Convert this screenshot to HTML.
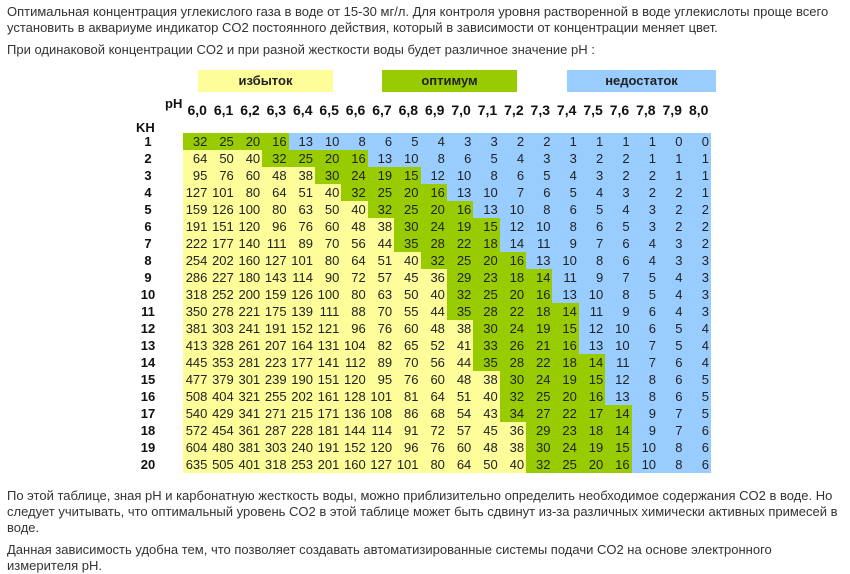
<!DOCTYPE html>
<html><head><meta charset="utf-8"><style>
body{margin:0;width:850px;height:574px;background:#fff;font-family:"Liberation Sans",Arial,sans-serif;color:#333;position:relative;overflow:hidden}
p{position:absolute;left:7px;margin:0;font-size:13px;line-height:16px;width:835px}
.lab{position:absolute;top:70px;height:22px;line-height:22px;text-align:center;font-weight:bold;font-size:13px;color:#222}
table{position:absolute;border-collapse:collapse;table-layout:fixed}
#t{left:183px;top:133px;width:528px}
#t td{width:26.4px;height:17px;padding:0 2px 0 0;text-align:right;font-size:13px;line-height:17px;color:#222;box-sizing:border-box}
.y{background:#fdfd99}.g{background:#99cc00}.b{background:#99ccff}
#h{left:184px;top:102px;width:528px}
#h td{width:26.4px;text-align:center;font-weight:bold;font-size:14px;color:#111;height:16px;padding:0}
#k{left:130px;top:133px;width:36px}
#k td{height:17px;text-align:center;font-weight:bold;font-size:13px;line-height:17px;color:#111;padding:0}
.ax{position:absolute;font-weight:bold;font-size:13px;color:#111}
</style></head><body>
<p style="top:4px">Оптимальная концентрация углекислого газа в воде от 15-30 мг/л. Для контроля уровня растворенной в воде углекислоты проще всего установить в аквариуме индикатор CO2 постоянного действия, который в зависимости от концентрации меняет цвет.</p>
<p style="top:42px">При одинаковой концентрации CO2 и при разной жесткости воды будет различное значение pH :</p>
<div class="lab" style="left:198px;width:135px;background:#fdfd99">избыток</div>
<div class="lab" style="left:382px;width:135px;background:#99cc00">оптимум</div>
<div class="lab" style="left:567px;width:149px;background:#99ccff">недостаток</div>
<div class="ax" style="left:165px;top:96px">pH</div>
<div class="ax" style="left:136px;top:120px">KH</div>
<table id="h"><tr><td>6,0</td><td>6,1</td><td>6,2</td><td>6,3</td><td>6,4</td><td>6,5</td><td>6,6</td><td>6,7</td><td>6,8</td><td>6,9</td><td>7,0</td><td>7,1</td><td>7,2</td><td>7,3</td><td>7,4</td><td>7,5</td><td>7,6</td><td>7,8</td><td>7,9</td><td>8,0</td></tr></table>
<table id="k"><tr><td>1</td></tr><tr><td>2</td></tr><tr><td>3</td></tr><tr><td>4</td></tr><tr><td>5</td></tr><tr><td>6</td></tr><tr><td>7</td></tr><tr><td>8</td></tr><tr><td>9</td></tr><tr><td>10</td></tr><tr><td>11</td></tr><tr><td>12</td></tr><tr><td>13</td></tr><tr><td>14</td></tr><tr><td>15</td></tr><tr><td>16</td></tr><tr><td>17</td></tr><tr><td>18</td></tr><tr><td>19</td></tr><tr><td>20</td></tr></table>
<table id="t">
<tr><td class="g">32</td><td class="g">25</td><td class="g">20</td><td class="g">16</td><td class="b">13</td><td class="b">10</td><td class="b">8</td><td class="b">6</td><td class="b">5</td><td class="b">4</td><td class="b">3</td><td class="b">3</td><td class="b">2</td><td class="b">2</td><td class="b">1</td><td class="b">1</td><td class="b">1</td><td class="b">1</td><td class="b">0</td><td class="b">0</td></tr>
<tr><td class="y">64</td><td class="y">50</td><td class="y">40</td><td class="g">32</td><td class="g">25</td><td class="g">20</td><td class="g">16</td><td class="b">13</td><td class="b">10</td><td class="b">8</td><td class="b">6</td><td class="b">5</td><td class="b">4</td><td class="b">3</td><td class="b">3</td><td class="b">2</td><td class="b">2</td><td class="b">1</td><td class="b">1</td><td class="b">1</td></tr>
<tr><td class="y">95</td><td class="y">76</td><td class="y">60</td><td class="y">48</td><td class="y">38</td><td class="g">30</td><td class="g">24</td><td class="g">19</td><td class="g">15</td><td class="b">12</td><td class="b">10</td><td class="b">8</td><td class="b">6</td><td class="b">5</td><td class="b">4</td><td class="b">3</td><td class="b">2</td><td class="b">2</td><td class="b">1</td><td class="b">1</td></tr>
<tr><td class="y">127</td><td class="y">101</td><td class="y">80</td><td class="y">64</td><td class="y">51</td><td class="y">40</td><td class="g">32</td><td class="g">25</td><td class="g">20</td><td class="g">16</td><td class="b">13</td><td class="b">10</td><td class="b">7</td><td class="b">6</td><td class="b">5</td><td class="b">4</td><td class="b">3</td><td class="b">2</td><td class="b">2</td><td class="b">1</td></tr>
<tr><td class="y">159</td><td class="y">126</td><td class="y">100</td><td class="y">80</td><td class="y">63</td><td class="y">50</td><td class="y">40</td><td class="g">32</td><td class="g">25</td><td class="g">20</td><td class="g">16</td><td class="b">13</td><td class="b">10</td><td class="b">8</td><td class="b">6</td><td class="b">5</td><td class="b">4</td><td class="b">3</td><td class="b">2</td><td class="b">2</td></tr>
<tr><td class="y">191</td><td class="y">151</td><td class="y">120</td><td class="y">96</td><td class="y">76</td><td class="y">60</td><td class="y">48</td><td class="y">38</td><td class="g">30</td><td class="g">24</td><td class="g">19</td><td class="g">15</td><td class="b">12</td><td class="b">10</td><td class="b">8</td><td class="b">6</td><td class="b">5</td><td class="b">3</td><td class="b">2</td><td class="b">2</td></tr>
<tr><td class="y">222</td><td class="y">177</td><td class="y">140</td><td class="y">111</td><td class="y">89</td><td class="y">70</td><td class="y">56</td><td class="y">44</td><td class="g">35</td><td class="g">28</td><td class="g">22</td><td class="g">18</td><td class="b">14</td><td class="b">11</td><td class="b">9</td><td class="b">7</td><td class="b">6</td><td class="b">4</td><td class="b">3</td><td class="b">2</td></tr>
<tr><td class="y">254</td><td class="y">202</td><td class="y">160</td><td class="y">127</td><td class="y">101</td><td class="y">80</td><td class="y">64</td><td class="y">51</td><td class="y">40</td><td class="g">32</td><td class="g">25</td><td class="g">20</td><td class="g">16</td><td class="b">13</td><td class="b">10</td><td class="b">8</td><td class="b">6</td><td class="b">4</td><td class="b">3</td><td class="b">3</td></tr>
<tr><td class="y">286</td><td class="y">227</td><td class="y">180</td><td class="y">143</td><td class="y">114</td><td class="y">90</td><td class="y">72</td><td class="y">57</td><td class="y">45</td><td class="y">36</td><td class="g">29</td><td class="g">23</td><td class="g">18</td><td class="g">14</td><td class="b">11</td><td class="b">9</td><td class="b">7</td><td class="b">5</td><td class="b">4</td><td class="b">3</td></tr>
<tr><td class="y">318</td><td class="y">252</td><td class="y">200</td><td class="y">159</td><td class="y">126</td><td class="y">100</td><td class="y">80</td><td class="y">63</td><td class="y">50</td><td class="y">40</td><td class="g">32</td><td class="g">25</td><td class="g">20</td><td class="g">16</td><td class="b">13</td><td class="b">10</td><td class="b">8</td><td class="b">5</td><td class="b">4</td><td class="b">3</td></tr>
<tr><td class="y">350</td><td class="y">278</td><td class="y">221</td><td class="y">175</td><td class="y">139</td><td class="y">111</td><td class="y">88</td><td class="y">70</td><td class="y">55</td><td class="y">44</td><td class="g">35</td><td class="g">28</td><td class="g">22</td><td class="g">18</td><td class="g">14</td><td class="b">11</td><td class="b">9</td><td class="b">6</td><td class="b">4</td><td class="b">3</td></tr>
<tr><td class="y">381</td><td class="y">303</td><td class="y">241</td><td class="y">191</td><td class="y">152</td><td class="y">121</td><td class="y">96</td><td class="y">76</td><td class="y">60</td><td class="y">48</td><td class="y">38</td><td class="g">30</td><td class="g">24</td><td class="g">19</td><td class="g">15</td><td class="b">12</td><td class="b">10</td><td class="b">6</td><td class="b">5</td><td class="b">4</td></tr>
<tr><td class="y">413</td><td class="y">328</td><td class="y">261</td><td class="y">207</td><td class="y">164</td><td class="y">131</td><td class="y">104</td><td class="y">82</td><td class="y">65</td><td class="y">52</td><td class="y">41</td><td class="g">33</td><td class="g">26</td><td class="g">21</td><td class="g">16</td><td class="b">13</td><td class="b">10</td><td class="b">7</td><td class="b">5</td><td class="b">4</td></tr>
<tr><td class="y">445</td><td class="y">353</td><td class="y">281</td><td class="y">223</td><td class="y">177</td><td class="y">141</td><td class="y">112</td><td class="y">89</td><td class="y">70</td><td class="y">56</td><td class="y">44</td><td class="g">35</td><td class="g">28</td><td class="g">22</td><td class="g">18</td><td class="g">14</td><td class="b">11</td><td class="b">7</td><td class="b">6</td><td class="b">4</td></tr>
<tr><td class="y">477</td><td class="y">379</td><td class="y">301</td><td class="y">239</td><td class="y">190</td><td class="y">151</td><td class="y">120</td><td class="y">95</td><td class="y">76</td><td class="y">60</td><td class="y">48</td><td class="y">38</td><td class="g">30</td><td class="g">24</td><td class="g">19</td><td class="g">15</td><td class="b">12</td><td class="b">8</td><td class="b">6</td><td class="b">5</td></tr>
<tr><td class="y">508</td><td class="y">404</td><td class="y">321</td><td class="y">255</td><td class="y">202</td><td class="y">161</td><td class="y">128</td><td class="y">101</td><td class="y">81</td><td class="y">64</td><td class="y">51</td><td class="y">40</td><td class="g">32</td><td class="g">25</td><td class="g">20</td><td class="g">16</td><td class="b">13</td><td class="b">8</td><td class="b">6</td><td class="b">5</td></tr>
<tr><td class="y">540</td><td class="y">429</td><td class="y">341</td><td class="y">271</td><td class="y">215</td><td class="y">171</td><td class="y">136</td><td class="y">108</td><td class="y">86</td><td class="y">68</td><td class="y">54</td><td class="y">43</td><td class="g">34</td><td class="g">27</td><td class="g">22</td><td class="g">17</td><td class="g">14</td><td class="b">9</td><td class="b">7</td><td class="b">5</td></tr>
<tr><td class="y">572</td><td class="y">454</td><td class="y">361</td><td class="y">287</td><td class="y">228</td><td class="y">181</td><td class="y">144</td><td class="y">114</td><td class="y">91</td><td class="y">72</td><td class="y">57</td><td class="y">45</td><td class="y">36</td><td class="g">29</td><td class="g">23</td><td class="g">18</td><td class="g">14</td><td class="b">9</td><td class="b">7</td><td class="b">6</td></tr>
<tr><td class="y">604</td><td class="y">480</td><td class="y">381</td><td class="y">303</td><td class="y">240</td><td class="y">191</td><td class="y">152</td><td class="y">120</td><td class="y">96</td><td class="y">76</td><td class="y">60</td><td class="y">48</td><td class="y">38</td><td class="g">30</td><td class="g">24</td><td class="g">19</td><td class="g">15</td><td class="b">10</td><td class="b">8</td><td class="b">6</td></tr>
<tr><td class="y">635</td><td class="y">505</td><td class="y">401</td><td class="y">318</td><td class="y">253</td><td class="y">201</td><td class="y">160</td><td class="y">127</td><td class="y">101</td><td class="y">80</td><td class="y">64</td><td class="y">50</td><td class="y">40</td><td class="g">32</td><td class="g">25</td><td class="g">20</td><td class="g">16</td><td class="b">10</td><td class="b">8</td><td class="b">6</td></tr>
</table>
<p style="top:488px">По этой таблице, зная pH и карбонатную жесткость воды, можно приблизительно определить необходимое содержания CO2 в воде. Но следует учитывать, что оптимальный уровень CO2 в этой таблице может быть сдвинут из-за различных химически активных примесей в воде.</p>
<p style="top:542px">Данная зависимость удобна тем, что позволяет создавать автоматизированные системы подачи CO2 на основе электронного измерителя pH.</p>
</body></html>
